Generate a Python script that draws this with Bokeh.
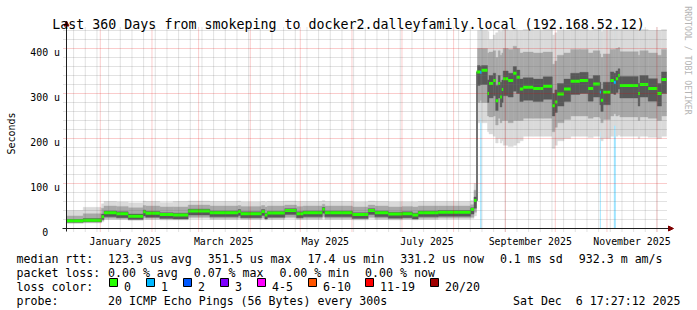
import math
import datetime as dt
from bokeh.plotting import figure
from bokeh.models import Label, Arrow, NormalHead, Range1d, ColumnDataSource
from bokeh.core.properties import value
from bokeh.embed import file_html
from bokeh.resources import INLINE

# ---------------- data ----------------
# segment start (days since Dec 11 2024 17:27:12); each segment lasts until the next start
seg_day = [0.0, 10.0, 21.0, 22.5, 30.0, 37.0, 46.0, 47.5, 56.0, 64.0,
           73.0, 86.0, 103.0, 104.5, 117.0, 119.0, 120.5, 131.0, 138.0, 142.0,
           153.5, 155.0, 171.5, 181.0, 185.0, 193.0, 201.5, 207.5, 211.0, 223.0,
           242.5, 244.5, 246.0, 246.6, 248.2, 249.0, 252.6, 253.5, 256.0, 257.5,
           259.0, 260.2, 261.2, 262.0, 265.0, 268.0, 270.0, 272.0, 274.0, 280.0,
           286.0, 291.5, 293.0, 294.5, 298.5, 302.5, 308.0, 313.0, 316.0, 320.0,
           320.6, 322.0, 326.3, 328.4, 329.6, 331.0, 332.0, 343.0, 344.0, 349.0,
           354.5, 357.0]
median_us = [17.4, 18.2, 26, 35, 33, 27.5, 37, 34, 31, 30,
             39, 35, 38, 33, 38, 30, 34.5, 40, 33, 35,
             43, 35, 31, 40, 35, 32, 33, 30, 35, 36,
             42, 62, 348, 348, 347, 351.5, 300, 322, 329, 284,
             322, 292, 309, 333, 329, 345, 336, 310, 314, 311,
             316, 273, 281, 299, 310, 327, 329, 311, 321, 303,
             285, 303, 329, 325, 333, 340, 318, 300, 320, 311,
             300, 331.2]
ping_lo = [11, 12, 15, 20, 20, 18, 21, 20, 19, 19,
           22, 20, 21, 20, 21, 19, 20, 22, 20, 20,
           23, 20, 19, 22, 20, 19, 20, 19, 20, 21,
           22, 28, 62, 235, 245, 235, 215, 210, 205, 190,
           200, 190, 195, 185, 182, 185, 190, 195, 205, 205,
           205, 178, 185, 195, 200, 205, 205, 202, 205, 215,
           195, 200, 205, 229, 205, 208, 205, 200, 205, 203,
           200, 205]
ping_p25 = [13, 14, 18, 23, 22, 21, 24, 23, 22, 22,
            25, 23, 24, 22, 24, 22, 23, 25, 22, 23,
            27, 23, 22, 25, 23, 22, 22, 22, 23, 24,
            25, 36, 62, 280, 285, 280, 250, 248, 250, 230,
            245, 235, 240, 240, 235, 240, 240, 240, 245, 245,
            245, 215, 225, 235, 242, 250, 250, 245, 248, 245,
            235, 242, 250, 255, 250, 252, 248, 240, 248, 245,
            240, 250]
ping_p40 = [14, 15, 20, 26, 24, 20, 28, 25, 22, 21,
            30, 26, 29, 24, 29, 21, 25, 31, 24, 26,
            34, 26, 22, 31, 26, 23, 24, 21, 26, 27,
            32, 45, 62, 318, 320, 320, 280, 290, 295, 262,
            290, 270, 280, 295, 292, 305, 300, 282, 285, 282,
            287, 250, 258, 272, 282, 298, 300, 283, 292, 275,
            260, 275, 300, 298, 302, 310, 290, 272, 292, 283,
            272, 300]
ping_p60 = [20, 22, 32, 39, 37, 32, 41, 38, 35, 34,
            43, 39, 42, 37, 42, 34, 38, 44, 37, 39,
            47, 39, 35, 44, 39, 36, 37, 34, 39, 40,
            46, 70, 348, 362, 360, 362, 330, 340, 345, 318,
            340, 325, 330, 350, 345, 360, 352, 332, 335, 332,
            337, 300, 308, 322, 332, 345, 347, 333, 340, 325,
            310, 325, 348, 345, 350, 355, 338, 322, 340, 333,
            322, 348]
ping_p75 = [28, 33, 45, 50, 49, 46, 51, 50, 48, 48,
            52, 50, 51, 49, 51, 48, 50, 52, 49, 50,
            54, 50, 48, 52, 50, 48, 49, 48, 50, 50,
            53, 85, 348, 400, 400, 400, 390, 392, 395, 380,
            395, 385, 390, 400, 398, 405, 400, 390, 392, 390,
            392, 365, 372, 385, 390, 398, 398, 390, 395, 388,
            380, 388, 398, 398, 400, 402, 393, 385, 395, 390,
            385, 398]
ping_hi = [40, 47, 55, 60, 59, 57, 61, 60, 58, 60,
           61, 60, 61, 59, 60, 59, 60, 61, 60, 60,
           62, 60, 59, 61, 60, 59, 59, 59, 60, 60,
           62, 100, 348, 440, 440, 440, 438, 420, 430, 435,
           440, 438, 440, 442, 440, 442, 440, 440, 442, 440,
           442, 430, 435, 440, 440, 442, 442, 440, 442, 440,
           438, 440, 442, 442, 442, 442, 442, 440, 442, 440,
           440, 442]
loss_pings = [0] * 34 + [1] + [0] * 24 + [1] + [0] * 3 + [1] + [0] * 8

loss_levels = ["0", "1", "2", "3", "4-5", "6-10", "11-19", "20/20"]
loss_colors = ["#26ff00", "#00b8ff", "#0059ff", "#7e00ff", "#ff00ff", "#ff5500", "#ff0000", "#a00000"]

month_labels = ["January 2025", "March 2025", "May 2025", "July 2025", "September 2025", "November 2025"]
y_ticks = [0, 100, 200, 300, 400]
y_tick_labels = ["0  ", "100 u", "200 u", "300 u", "400 u"]

title_text = "Last 360 Days from smokeping to docker2.dalleyfamily.local (192.168.52.12)"
rtt_items = ["median rtt:", "123.3 us avg", "351.5 us max", "17.4 us min", "331.2 us now", "0.1 ms sd", "932.3 m am/s"]
loss_items = ["packet loss:", "0.00 % avg", "0.07 % max", "0.00 % min", "0.00 % now"]
probe_items = ["probe:", "20 ICMP Echo Pings (56 Bytes) every 300s"]
stamp_text = "Sat Dec  6 17:27:12 2025"

# ---------------- geometry / style ----------------
W, H = 697, 310
GL, GB = 66, 228              # graph origin in pixels (left, bottom)
PX_PER_DAY = 600 / 360
PX_PER_U = 0.45
Y_MAX = 200 / PX_PER_U        # top of graph area (u)
X0 = -GL / PX_PER_DAY
X1 = X0 + W / PX_PER_DAY
Y1 = GB / PX_PER_U
Y0 = Y1 - H / PX_PER_U
MONO = "DejaVu Sans Mono"
AXIS = "#1e1e1e"
ARROW = "#7f0000"
NB = "\u00a0"


def dx(px):   # canvas pixel column -> day
    return X0 + px / PX_PER_DAY


def uy(py):   # canvas pixel row (from top) -> u
    return Y1 - py / PX_PER_U


START = dt.datetime(2024, 12, 11, 17, 27, 12)


def dday(d):
    return (d - START).total_seconds() / 86400.0


month_days = [dday(dt.datetime(2025, m, 1)) for m in range(1, 13)]
label_days = [dday(dt.datetime(2025, m, 16)) for m in (1, 3, 5, 7, 9, 11)]
week_days = []
d0 = dt.datetime(2024, 12, 16)
while d0 < dt.datetime(2025, 12, 6):
    week_days.append(dday(d0))
    d0 += dt.timedelta(days=7)

p = figure(width=W, height=H, output_backend="svg", toolbar_location=None,
           x_range=Range1d(X0, X1), y_range=Range1d(Y0, Y1),
           x_axis_location=None, y_axis_location=None,
           min_border=0, min_border_left=0, min_border_right=0,
           min_border_top=0, min_border_bottom=0,
           background_fill_color="white", border_fill_color="white")
p.outline_line_color = None
p.grid.visible = False

# ---------------- data glyphs ----------------
seg_end = seg_day[1:] + [360.0]


def loss_index(n):
    if n <= 3:
        return n
    if n <= 5:
        return 4
    if n <= 10:
        return 5
    if n <= 19:
        return 6
    return 7


seg_color = [loss_colors[loss_index(n)] for n in loss_pings]
src = ColumnDataSource(dict(left=seg_day, right=seg_end, med=median_us, lo=ping_lo,
                            p25=ping_p25, p40=ping_p40, p60=ping_p60, p75=ping_p75,
                            hi=ping_hi, color=seg_color))

# loss background bars (full graph height, behind the smoke)
lb_idx = [i for i, n in enumerate(loss_pings) if n > 0]
lsrc = ColumnDataSource(dict(left=[seg_day[i] for i in lb_idx], right=[seg_end[i] for i in lb_idx],
                             color=[seg_color[i] for i in lb_idx]))
p.quad(left="left", right="right", bottom=0, top=Y_MAX, source=lsrc,
       fill_color="color", fill_alpha=0.38, line_color=None)

# smoke
for b, t, c in (("lo", "hi", "#dadada"), ("p25", "p75", "#a8a8a8"), ("p40", "p60", "#585858")):
    p.quad(left="left", right="right", bottom=b, top=t, source=src,
           fill_color=c, line_color=c, line_width=0.4)

# median (coloured by loss)
p.segment(x0="left", x1="right", y0="med", y1="med", source=src,
          line_color="color", line_width=3, line_cap="butt")

# ---------------- grid (on top, dotted, like rrdtool) ----------------
GRID_MINOR = "rgba(110,110,110,0.40)"
GRID_MAJOR = "rgba(230,0,0,0.40)"
minor_y = [v for v in range(20, 441, 20) if v % 100]
major_y = [100, 200, 300, 400]
g_bot, g_top = uy(231), uy(26.5)
g_left, g_right = dx(63), 360
p.segment(x0=week_days, x1=week_days, y0=g_bot, y1=g_top, line_color=GRID_MINOR, line_dash="1 1")
p.segment(x0=g_left, x1=g_right, y0=minor_y, y1=minor_y, line_color=GRID_MINOR, line_dash="1 1")
p.segment(x0=month_days, x1=month_days, y0=g_bot, y1=g_top, line_color=GRID_MAJOR, line_dash="1 1")
p.segment(x0=g_left, x1=g_right, y0=major_y, y1=major_y, line_color=GRID_MAJOR, line_dash="1 1")

# ---------------- axes ----------------
p.add_layout(Arrow(end=NormalHead(size=5, fill_color=ARROW, line_color=ARROW, line_width=1),
                   x_start=0, y_start=uy(231), x_end=0, y_end=uy(20.5),
                   line_color=AXIS, line_width=1))
p.add_layout(Arrow(end=NormalHead(size=5, fill_color=ARROW, line_color=ARROW, line_width=1),
                   x_start=dx(62), y_start=0, x_end=dx(673), y_end=0,
                   line_color=AXIS, line_width=1))

p.text(x=label_days, y=[uy(241)] * len(label_days), text=month_labels,
       text_font=value(MONO), text_font_size="9.9px", text_align="center",
       text_baseline="alphabetic", text_color="black")
p.text(x=[dx(59.5)] * len(y_ticks), y=[v - 3.6 / PX_PER_U for v in y_ticks],
       text=[t.replace(" ", NB) for t in y_tick_labels],
       text_font=value(MONO), text_font_size="9.9px", text_align="right",
       text_baseline="alphabetic", text_color="black")


# ---------------- texts ----------------
def put(text, cx, cy, size, align="left", baseline="alphabetic", color="black", angle=0.0):
    p.add_layout(Label(x=dx(cx), y=uy(cy), text=text.replace(" ", NB), text_font=MONO,
                       text_font_size=f"{size}px", text_align=align, text_baseline=baseline,
                       text_color=color, angle=angle))


put(title_text, 348, 24, 13.3, align="center")
put("Seconds", 11, 133, 10, align="center", baseline="middle", angle=math.pi / 2)
put("RRDTOOL / TOBI OETIKER", 687, 60, 8.2, align="center", baseline="middle",
    color="#b4b4b4", angle=-math.pi / 2)

LEG = 11.6
rtt_x = [16, 107.5, 207.3, 307, 399.7, 499.4, 578.3]
for t, x in zip(rtt_items, rtt_x):
    put(t, x, 258, LEG)
loss_x = [16, 107.5, 193.2, 278.9, 364.6]
for t, x in zip(loss_items, loss_x):
    put(t, x, 272, LEG)
put("loss color:", 16, 286, LEG)
sw_left = [109, 146, 183, 220, 257, 308, 365, 430]
p.rect(x=[dx(x + 4) for x in sw_left], y=[uy(282)] * len(sw_left), width=8, height=8,
       width_units="screen", height_units="screen",
       fill_color=loss_colors, line_color="black", line_width=1)
for lvl, x in zip(loss_levels, sw_left):
    put(lvl, x + 14.5, 286, LEG)
for t, x in zip(probe_items, [16, 107.5]):
    put(t, x, 300, LEG)
put(stamp_text, 680, 300, LEG, align="right")

open("out.html", "w").write(file_html(p, INLINE))
